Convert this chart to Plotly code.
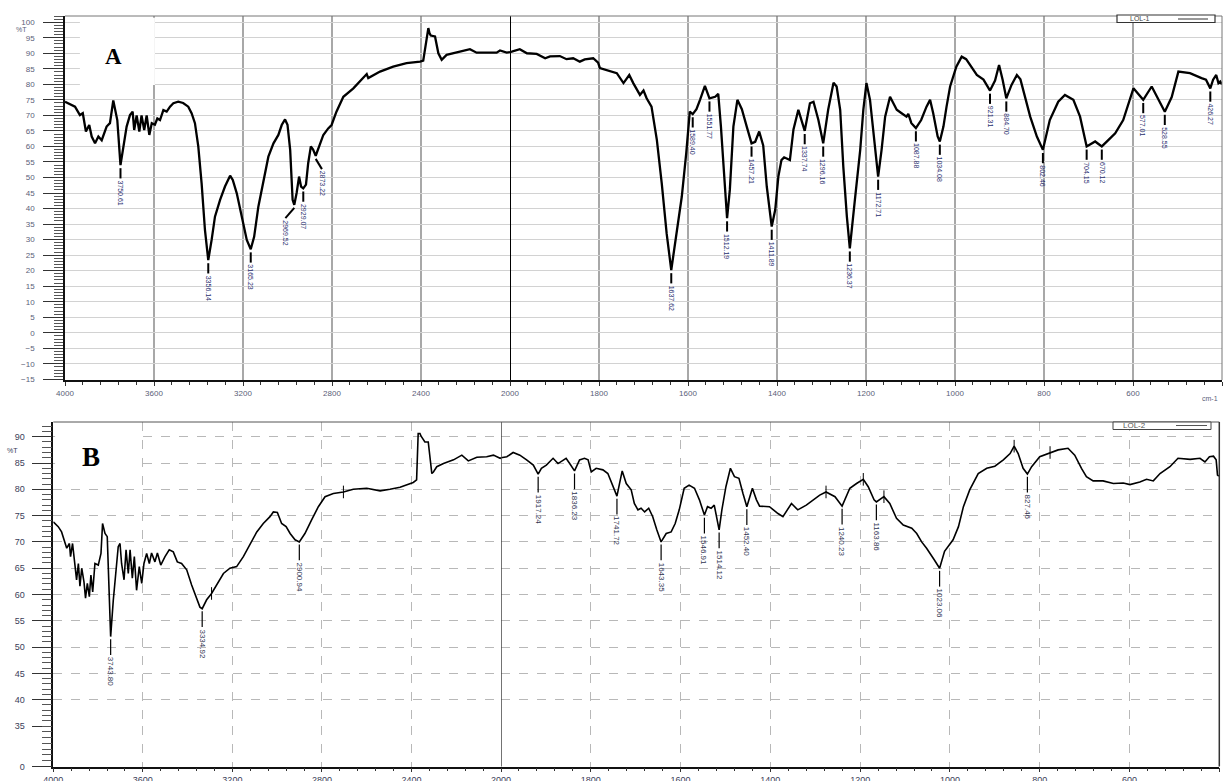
import plotly.graph_objects as go

W, H = 1225, 781

# ---------------- spectrum LOL-1 (wavenumber cm-1, %T) ----------------
lol1_points = [
    (4000, 74.4), (3955, 72.8), (3933, 70.1), (3920, 70.7), (3906, 64.8), (3891, 66.9),
    (3880, 63.2), (3865, 61.0), (3850, 63.2), (3835, 62.0), (3813, 66.4), (3798, 67.5),
    (3783, 74.8), (3775, 72.0), (3765, 68.5), (3750.61, 54.0), (3735, 61.0), (3723, 66.4),
    (3708, 70.1), (3696, 71.2), (3689, 65.3), (3678, 70.0), (3666, 64.8), (3656, 70.0),
    (3644, 65.3), (3633, 70.0), (3621, 63.7), (3610, 67.5), (3596, 67.0), (3585, 69.0),
    (3573, 68.5), (3558, 71.7), (3543, 71.2), (3528, 72.8), (3513, 73.9), (3491, 74.4),
    (3469, 74.0), (3446, 72.8), (3431, 70.7), (3416, 67.5), (3401, 60.0), (3386, 48.1),
    (3371, 33.1), (3356.14, 23.4), (3341, 29.9), (3326, 37.4), (3303, 42.8), (3281, 47.1),
    (3258, 50.6), (3246, 49.2), (3228, 44.9), (3206, 37.4), (3183, 29.9), (3165.23, 26.9),
    (3150, 30.9), (3131, 40.6), (3108, 49.2), (3086, 56.7), (3063, 61.0), (3041, 63.7),
    (3026, 66.9), (3011, 68.7), (3000, 67.0), (2988, 58.9), (2977, 42.8), (2969.52, 41.2),
    (2959, 45.0), (2948, 50.3), (2939, 47.1), (2929.07, 46.5), (2917, 47.7), (2907, 54.6),
    (2895, 60.0), (2885, 59.0), (2873.22, 57.0), (2858, 60.0), (2839, 63.7), (2817, 65.8),
    (2802, 66.9), (2780, 71.2), (2749, 76.0), (2704, 78.7), (2659, 82.0), (2644, 83.3),
    (2637, 82.0), (2584, 84.1), (2525, 85.7), (2465, 86.8), (2404, 87.3), (2390, 87.6),
    (2367, 98.1), (2362, 96.5), (2356, 95.7), (2337, 95.4), (2322, 90.0), (2307, 87.9),
    (2285, 89.5), (2240, 90.2), (2180, 91.3), (2150, 90.2), (2060, 90.2), (2045, 90.9),
    (2015, 90.2), (2000, 90.4), (1996, 90.5), (1978, 91.3), (1962, 90.0), (1940, 89.8),
    (1921, 88.4), (1910, 89.0), (1888, 89.1), (1873, 88.1), (1858, 88.4), (1843, 87.3),
    (1832, 88.0), (1813, 88.4), (1802, 87.0), (1798, 85.2), (1775, 84.1), (1760, 83.6),
    (1745, 80.4), (1732, 83.0), (1723, 80.4), (1708, 76.6), (1700, 78.0), (1693, 75.5),
    (1682, 72.8), (1670, 62.1), (1659, 48.1), (1648, 32.0), (1637.62, 20.2), (1625, 32.0),
    (1614, 43.8), (1604, 57.8), (1596, 71.2), (1589.40, 70.4), (1581, 72.0), (1573, 75.0),
    (1562, 79.5), (1551.77, 75.5), (1539, 76.0), (1532, 76.9), (1526, 66.4), (1517, 47.1),
    (1512.19, 36.9), (1506, 46.0), (1498, 66.4), (1489, 75.0), (1479, 72.0), (1468, 66.4),
    (1457.21, 61.0), (1449, 61.5), (1440, 64.8), (1431, 60.3), (1423, 47.1), (1411.89, 34.2),
    (1404, 39.6), (1397, 50.3), (1390, 55.6), (1384, 56.5), (1378, 56.0), (1371, 55.6),
    (1363, 65.5), (1352, 71.8), (1337.74, 65.0), (1326, 73.9), (1318, 74.4), (1307, 68.5),
    (1296.16, 61.0), (1285, 71.8), (1273, 80.5), (1266, 79.3), (1258, 71.8), (1251, 53.5),
    (1243, 37.4), (1236.37, 27.2), (1225, 42.8), (1213, 58.9), (1206, 71.8), (1199, 80.4),
    (1191, 75.0), (1182, 62.1), (1172.71, 50.3), (1165, 58.9), (1157, 69.6), (1146, 76.0),
    (1131, 71.8), (1120, 70.7), (1109, 69.6), (1105, 70.5), (1098, 67.5), (1087.88, 65.9),
    (1076, 68.5), (1064, 72.8), (1056, 75.0), (1049, 70.7), (1039, 63.2), (1034.08, 61.6),
    (1026, 66.4), (1019, 72.8), (1011, 79.3), (997, 85.7), (985, 88.9), (975, 88.1),
    (951, 83.0), (936, 81.5), (921.31, 78.0), (910, 81.2), (901, 86.2), (893, 81.5),
    (884.70, 75.5), (873, 79.8), (861, 83.0), (853, 81.6), (831, 69.6), (816, 63.2),
    (802.46, 58.9), (787, 68.5), (768, 74.4), (753, 76.6), (734, 75.0), (719, 69.6),
    (704.15, 60.0), (685, 61.6), (670.12, 60.0), (655, 62.1), (640, 64.2), (622, 68.5),
    (599, 78.7), (577.01, 75.0), (558, 79.3), (528.55, 71.2), (513, 75.9), (498, 84.1),
    (472, 83.6), (446, 82.0), (436, 81.5), (426.27, 78.7), (420, 81.5), (413, 83.0),
    (408, 80.4), (404, 80.9), (400, 80.0),
]

# ---------------- spectrum LOL-2 (wavenumber cm-1, %T) ----------------
lol2_points = [
    (4000, 73.8), (3978, 72.9), (3963, 71.9), (3948, 69.7), (3940, 68.8), (3928, 69.7),
    (3923, 67.2), (3914, 69.7), (3903, 65.6), (3896, 62.8), (3888, 65.9), (3881, 61.6),
    (3873, 65.0), (3863, 62.4), (3856, 59.3), (3848, 62.1), (3839, 59.6), (3832, 63.7),
    (3824, 60.5), (3814, 65.9), (3799, 65.6), (3787, 67.8), (3780, 73.5), (3769, 71.6),
    (3759, 71.0), (3751, 61.5), (3743.80, 52.0), (3732, 58.9), (3721, 64.7), (3710, 69.1),
    (3702, 69.7), (3695, 65.9), (3684, 62.8), (3675, 68.5), (3665, 64.0), (3657, 68.5),
    (3647, 63.1), (3638, 67.2), (3628, 60.8), (3616, 65.3), (3605, 62.1), (3595, 65.9),
    (3583, 67.8), (3571, 65.9), (3561, 67.9), (3546, 66.2), (3535, 67.9), (3520, 65.6),
    (3501, 67.2), (3482, 68.5), (3464, 68.1), (3446, 66.2), (3427, 65.9), (3404, 64.7),
    (3382, 61.8), (3360, 59.3), (3345, 57.6), (3334.92, 57.3), (3315, 59.0), (3293, 60.2),
    (3270, 61.8), (3240, 64.0), (3211, 65.0), (3181, 65.3), (3151, 67.2), (3121, 69.7),
    (3091, 71.9), (3062, 73.5), (3032, 74.8), (3017, 75.7), (2999, 75.6), (2980, 73.5),
    (2960, 72.9), (2942, 71.6), (2920, 70.4), (2900.94, 70.0), (2876, 71.6), (2846, 74.2),
    (2816, 76.7), (2786, 78.6), (2749, 79.2), (2704, 79.5), (2660, 80.0), (2600, 80.2),
    (2540, 79.7), (2496, 80.0), (2451, 80.4), (2392, 81.3), (2377, 81.8), (2370, 90.6),
    (2362, 90.6), (2357, 90.1), (2340, 89.0), (2325, 89.0), (2309, 83.0), (2302, 83.3),
    (2287, 84.3), (2257, 84.9), (2212, 85.6), (2175, 86.5), (2146, 85.4), (2108, 86.1),
    (2064, 86.2), (2034, 86.5), (2004, 85.9), (2000, 86.0), (1987, 86.2), (1973, 87.0),
    (1958, 86.5), (1943, 85.6), (1928, 84.6), (1917.24, 82.9), (1910, 84.0), (1899, 84.6),
    (1884, 85.9), (1873, 84.9), (1862, 85.6), (1855, 85.9), (1847, 84.9), (1836.23, 83.5),
    (1825, 85.6), (1814, 85.9), (1806, 85.6), (1799, 83.3), (1788, 84.0), (1773, 83.7),
    (1762, 83.0), (1751, 80.8), (1741.72, 78.7), (1736, 81.1), (1730, 83.5), (1721, 81.1),
    (1710, 79.9), (1703, 77.3), (1695, 76.1), (1688, 76.4), (1680, 75.7), (1671, 76.4),
    (1662, 74.8), (1653, 72.3), (1643.35, 70.0), (1632, 71.6), (1621, 71.9), (1612, 73.5),
    (1603, 76.1), (1592, 80.2), (1581, 80.8), (1569, 80.2), (1558, 78.0), (1546.91, 75.1),
    (1540, 76.7), (1532, 76.4), (1525, 77.0), (1514.12, 72.3), (1508, 76.1), (1499, 80.5),
    (1489, 84.0), (1480, 82.4), (1470, 82.1), (1461, 79.2), (1452.40, 76.7), (1440, 80.2),
    (1431, 78.0), (1424, 76.8), (1402, 76.7), (1383, 75.4), (1372, 74.8), (1353, 77.3),
    (1339, 76.1), (1320, 77.0), (1305, 78.0), (1290, 78.9), (1276, 79.5), (1256, 78.6),
    (1240.23, 76.8), (1223, 80.2), (1208, 81.1), (1193, 81.9), (1182, 80.5), (1169, 78.0),
    (1163.86, 77.6), (1147, 78.6), (1134, 77.3), (1119, 74.5), (1104, 73.2), (1085, 72.6),
    (1074, 71.6), (1063, 70.0), (1052, 68.8), (1041, 67.2), (1035, 66.6), (1023.06, 65.0),
    (1012, 68.2), (993, 70.4), (981, 72.9), (970, 76.7), (956, 79.9), (937, 83.0),
    (918, 84.0), (900, 84.4), (881, 85.6), (866, 86.8), (857, 88.2), (848, 86.8),
    (837, 84.0), (827.46, 82.9), (818, 84.3), (800, 86.2), (777, 87.0), (759, 87.5),
    (737, 87.8), (722, 86.5), (707, 84.0), (696, 82.4), (681, 81.6), (659, 81.6),
    (636, 81.1), (614, 81.2), (599, 80.9), (577, 81.4), (562, 81.9), (547, 81.6),
    (532, 83.0), (510, 84.3), (492, 85.9), (465, 85.7), (443, 85.9), (432, 85.2),
    (422, 86.2), (413, 86.3), (407, 85.6), (404, 82.7), (401, 82.5),
]

# labelled absorption bands
peaks_lol1 = [3750.61, 3356.14, 3165.23, 2969.52, 2929.07, 2873.22, 1637.62, 1589.40,
              1551.77, 1512.19, 1457.21, 1411.89, 1337.74, 1296.16, 1236.37, 1172.71,
              1087.88, 1034.08, 921.31, 884.70, 802.46, 704.15, 670.12, 577.01, 528.55,
              426.27]
peaks_lol2 = [3743.80, 3334.92, 2900.94, 1917.24, 1836.23, 1741.72, 1643.35, 1546.91,
              1514.12, 1452.40, 1240.23, 1163.86, 1023.06, 827.46]
# small maximum markers drawn on LOL-2
marks_lol2 = [3293, 2704, 1276, 1193, 1147, 857, 777]

ticks_high = [4000, 3600, 3200, 2800, 2400, 2000]
ticks_low = [1800, 1600, 1400, 1200, 1000, 800, 600, 400]

# label nudges (cm-1) for crowded bands, positive moves the label left
label_nudge_lol1 = {2969.52: 40, 2873.22: -28}

# ---------------- layout geometry (pixels) ----------------
A_L, A_BRK, A_R, A_T, A_B = 65, 510, 1222, 16, 380
B_L, B_BRK, B_R, B_T, B_MID, B_B = 53.3, 501, 1219.3, 422, 726, 766.5


def fx(p):
    return p / W


def fy(p):
    return 1 - p / H


def halves(points):
    hi = [(w, v) for w, v in points if w >= 2000]
    lo = [(w, v) for w, v in points if w <= 2000]
    return hi, lo


fig = go.Figure()


def add_line(pts, xa, ya, width):
    fig.add_trace(go.Scatter(
        x=[p[0] for p in pts], y=[p[1] for p in pts], xaxis=xa, yaxis=ya,
        mode="lines", line=dict(color="black", width=width),
        showlegend=False, hoverinfo="skip"))


a_hi, a_lo = halves(lol1_points)
b_hi, b_lo = halves(lol2_points)
add_line(a_hi, "x", "y", 2.3)
add_line(a_lo, "x2", "y", 2.3)
add_line(b_hi, "x3", "y3", 1.6)
add_line(b_lo, "x4", "y3", 1.6)

# empty traces so the lower (0-35) strip of panel B exists as a subplot
for xa in ("x3", "x4"):
    fig.add_trace(go.Scatter(x=[], y=[], xaxis=xa, yaxis="y4", mode="lines",
                             showlegend=False, hoverinfo="skip"))

# peak markers on LOL-2
lookup2 = dict(lol2_points)
for sel, xa in ((lambda w: w >= 2000, "x3"), (lambda w: w < 2000, "x4")):
    ws = [w for w in marks_lol2 if sel(w)]
    fig.add_trace(go.Scatter(
        x=ws, y=[lookup2[w] for w in ws], xaxis=xa, yaxis="y3", mode="markers",
        marker=dict(symbol="line-ns-open", size=9, color="black",
                    line=dict(color="black", width=1)),
        showlegend=False, hoverinfo="skip"))

annotations = []


def add_peak_labels(peaks, points, hi_ax, lo_ax, ya, gap, lead, nudge, font, lw):
    lookup = dict(points)
    segs = {hi_ax: ([], []), lo_ax: ([], [])}
    for w in peaks:
        t = lookup[w]
        xa = hi_ax if w >= 2000 else lo_ax
        lx = w + nudge.get(w, 0)
        xs, ys = segs[xa]
        xs += [w, lx, None]
        ys += [t - gap, t - gap - lead, None]
        annotations.append(dict(
            x=lx, y=t - gap - lead, xref=xa, yref=ya, text=f"{w:.2f}",
            textangle=90, showarrow=False, xanchor="center", yanchor="top",
            font=font))
    for xa, (xs, ys) in segs.items():
        fig.add_trace(go.Scatter(
            x=xs, y=ys, xaxis=xa, yaxis=ya, mode="lines",
            line=dict(color="black", width=lw), showlegend=False, hoverinfo="skip"))


label_font_a = dict(family="Liberation Sans Narrow, Arial Narrow, Liberation Sans",
                    size=7, color="#2a2f70")
label_font_b = dict(family="Liberation Sans Narrow, Arial Narrow, Liberation Sans",
                    size=8, color="#2f3350")
add_peak_labels(peaks_lol1, lol1_points, "x", "x2", "y", 1.0, 3.3,
                label_nudge_lol1, label_font_a, 2.0)
add_peak_labels(peaks_lol2, lol2_points, "x3", "x4", "y3", 0.5, 3.0,
                {}, label_font_b, 1.2)

tick_font_a = dict(family="Liberation Sans", size=8, color="#5a5e78")
tick_font_b = dict(family="Liberation Sans", size=9, color="#3a3d58")


def xaxis(domain, rng, vals, anchor, minor_dt, grid, font, ticklen, standoff):
    d = dict(domain=domain, range=rng, anchor=anchor, tickmode="array",
             tickvals=vals, ticktext=[str(v) for v in vals], ticks="outside",
             ticklen=ticklen, tickwidth=1, tickcolor="#333", showline=True,
             linecolor="#111", linewidth=1.5, zeroline=False, tickfont=font,
             ticklabelstandoff=standoff, automargin=False,
             minor=dict(tickmode="linear", tick0=0, dtick=minor_dt, ticks="outside",
                        ticklen=ticklen - 1, tickcolor="#333", showgrid=False),
             fixedrange=True)
    d.update(grid)
    return d


grid_a_x = dict(showgrid=True, gridcolor="#a8a8a8", gridwidth=2)
grid_a_y = dict(showgrid=True, gridcolor="#d2d2d2", gridwidth=1)
grid_b = dict(showgrid=True, gridcolor="#b8b8b8", gridwidth=1, griddash="dash")

layout = dict(
    width=W, height=H, margin=dict(l=0, r=0, t=0, b=0, pad=0, autoexpand=False),
    paper_bgcolor="white", plot_bgcolor="white", showlegend=False,
    font=dict(family="Liberation Sans"),
    xaxis=xaxis([fx(A_L), fx(A_BRK)], [4000, 2000], ticks_high, "y", 80, grid_a_x,
                tick_font_a, 4, 1),
    xaxis2=xaxis([fx(A_BRK), fx(A_R)], [2000, 400], ticks_low, "y", 40, grid_a_x,
                 tick_font_a, 4, 1),
    xaxis3=xaxis([fx(B_L), fx(B_BRK)], [4000, 2000], ticks_high, "y4", 80, grid_b,
                 tick_font_b, 4, 0),
    xaxis4=xaxis([fx(B_BRK), fx(B_R)], [2000, 400], ticks_low, "y4", 40, grid_b,
                 tick_font_b, 4, 0),
    yaxis=dict(domain=[fy(A_B), fy(A_T)], range=[-15.2, 102], anchor="x",
               tickmode="linear", tick0=0, dtick=5, ticks="outside", ticklen=20,
               tickcolor="#333", showline=True, linecolor="#111", linewidth=1.5,
               zeroline=False, tickfont=tick_font_a, ticklabelstandoff=7,
               automargin=False,
               minor=dict(tickmode="linear", tick0=0, dtick=1, ticks="outside",
                          ticklen=9, tickcolor="#555", showgrid=False),
               fixedrange=True, **grid_a_y),
    yaxis3=dict(domain=[fy(B_MID), fy(B_T)], range=[35, 92.8], anchor="x3",
                tickmode="linear", tick0=0, dtick=5, ticks="outside", ticklen=20,
                tickcolor="#333", showline=True, linecolor="#111", linewidth=1.5,
                zeroline=False, tickfont=tick_font_b, ticklabelstandoff=5,
                automargin=False,
                minor=dict(tickmode="linear", tick0=0, dtick=1, ticks="outside",
                           ticklen=10, tickcolor="#555", showgrid=False),
                fixedrange=True, **grid_b),
    yaxis4=dict(domain=[fy(B_B), fy(B_MID)], range=[0, 35], anchor="x3",
                tickmode="array", tickvals=[0], ticktext=["0"], ticks="outside",
                ticklen=20, tickcolor="#333", showline=True, linecolor="#111",
                linewidth=1.5, zeroline=False, showgrid=False, tickfont=tick_font_b,
                ticklabelstandoff=5, automargin=False,
                minor=dict(tickmode="linear", tick0=0, dtick=5, ticks="outside",
                           ticklen=10, tickcolor="#555", showgrid=False),
                fixedrange=True),
)

shapes = [
    # white panels behind the panel letters
    dict(type="rect", xref="x", yref="y", x0=3933, x1=3596, y0=79.8, y1=101.4,
         fillcolor="white", line=dict(width=0), layer="between"),
    dict(type="rect", xref="x3", yref="y3", x0=3992, x1=3614, y0=82.8, y1=92.8,
         fillcolor="white", line=dict(width=0), layer="between"),
    # scale change at 2000 cm-1
    dict(type="line", xref="x2", yref="paper", x0=2000, x1=2000, y0=fy(A_B), y1=fy(A_T),
         line=dict(color="black", width=2)),
    dict(type="line", xref="x4", yref="paper", x0=2000, x1=2000, y0=fy(B_B), y1=fy(B_T),
         line=dict(color="#444", width=1.5)),
    # frame (top / right)
    dict(type="line", xref="paper", yref="paper", x0=fx(A_L), x1=fx(A_R), y0=fy(A_T), y1=fy(A_T),
         line=dict(color="#777", width=1)),
    dict(type="line", xref="paper", yref="paper", x0=fx(A_R), x1=fx(A_R), y0=fy(A_B), y1=fy(A_T),
         line=dict(color="#777", width=1)),
    dict(type="line", xref="paper", yref="paper", x0=fx(B_L), x1=fx(B_R), y0=fy(B_T), y1=fy(B_T),
         line=dict(color="#555", width=1)),
    dict(type="line", xref="paper", yref="paper", x0=fx(B_R), x1=fx(B_R), y0=fy(B_B), y1=fy(B_T),
         line=dict(color="#333", width=1.5)),
    # sample keys
    dict(type="rect", xref="paper", yref="paper", x0=fx(1117), x1=fx(1215), y0=fy(22.5), y1=fy(15),
         fillcolor="white", line=dict(color="#333", width=1.2)),
    dict(type="line", xref="paper", yref="paper", x0=fx(1178), x1=fx(1208), y0=fy(19), y1=fy(19),
         line=dict(color="#333", width=1)),
    dict(type="rect", xref="paper", yref="paper", x0=fx(1113), x1=fx(1211), y0=fy(429.5), y1=fy(422),
         fillcolor="white", line=dict(color="#444", width=1)),
    dict(type="line", xref="paper", yref="paper", x0=fx(1176), x1=fx(1207), y0=fy(425.5), y1=fy(425.5),
         line=dict(color="#555", width=1)),
]


def paper_text(x, y, text, font, **kw):
    annotations.append(dict(x=fx(x), y=fy(y), xref="paper", yref="paper", text=text,
                            showarrow=False, xanchor="center", yanchor="middle",
                            font=font, **kw))


letter_font = dict(family="Liberation Serif", color="black")
paper_text(113, 56, "<b>A</b>", dict(letter_font, size=23))
paper_text(91, 457, "<b>B</b>", dict(letter_font, size=27))
paper_text(21, 29, "%T", dict(family="Liberation Sans", size=7, color="#5a5e78"))
paper_text(12, 450, "%T", dict(family="Liberation Sans", size=7, color="#3a3d58"))
paper_text(1210, 398, "cm-1", dict(family="Liberation Sans", size=7, color="#5a5e78"))
paper_text(1140, 19, "LOL-1", dict(family="Liberation Sans", size=7, color="#444"))
paper_text(1134, 426, "LOL-2", dict(family="Liberation Sans", size=8, color="#555"))

layout["shapes"] = shapes
layout["annotations"] = annotations
fig.update_layout(**layout)
fig.write_html("out.html")
